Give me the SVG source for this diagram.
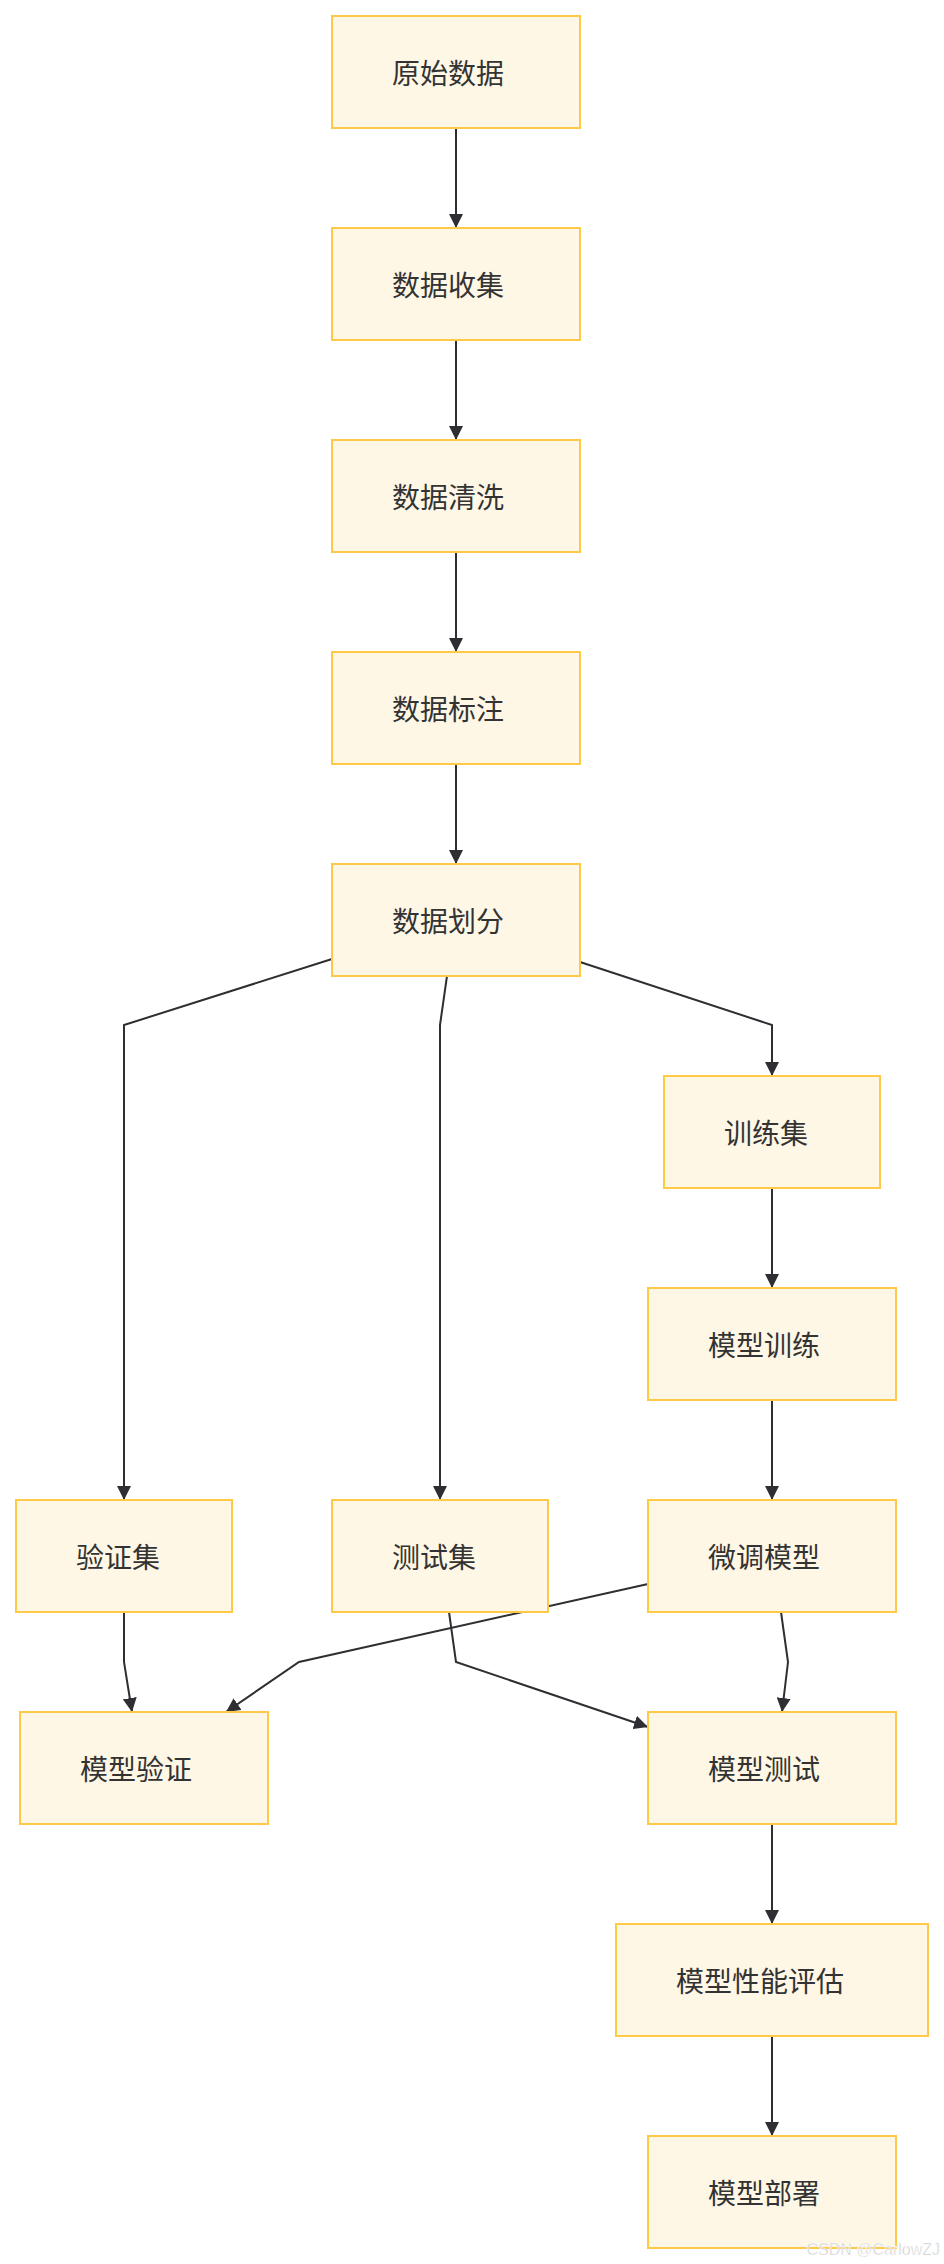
<svg xmlns="http://www.w3.org/2000/svg" width="944" height="2264" viewBox="0 0 944 2264">
<style>
.node rect{fill:#fff7e6;stroke:#fdc947;stroke-width:2}
.node text{font-family:"Noto Sans CJK SC","Noto Sans CJK JP",sans-serif;font-size:28px;fill:#333;text-anchor:start;dominant-baseline:central}
.edges path{fill:none;stroke:#2e2e33;stroke-width:2}
.wm{font-family:"Liberation Sans",Arial,sans-serif;font-size:16px;fill:#c8c8c8;stroke:#ffffff;stroke-width:0.5;text-anchor:end}
</style>
<defs>
<marker id="arrow" viewBox="0 0 10 10" refX="10" refY="5" markerWidth="14" markerHeight="14" markerUnits="userSpaceOnUse" orient="auto">
<path d="M0,0 L10,5 L0,10 z" fill="#2e2e33"/>
</marker>
</defs>
<rect width="944" height="2264" fill="#ffffff"/>
<g class="edges">
<path d="M456,128 L456,228" marker-end="url(#arrow)"/>
<path d="M456,340 L456,440" marker-end="url(#arrow)"/>
<path d="M456,552 L456,652" marker-end="url(#arrow)"/>
<path d="M456,764 L456,864" marker-end="url(#arrow)"/>
<path d="M332,959 L124,1025 L124,1500" marker-end="url(#arrow)"/>
<path d="M447,976 L440,1025 L440,1500" marker-end="url(#arrow)"/>
<path d="M580,962 L772,1025 L772,1076" marker-end="url(#arrow)"/>
<path d="M772,1188 L772,1288" marker-end="url(#arrow)"/>
<path d="M772,1400 L772,1500" marker-end="url(#arrow)"/>
<path d="M124,1612 L124,1662 L132,1712" marker-end="url(#arrow)"/>
<path d="M648,1584 L299,1662 L226,1712" marker-end="url(#arrow)"/>
<path d="M449,1612 L456,1662 L648,1727" marker-end="url(#arrow)"/>
<path d="M781,1612 L788,1662 L782,1712" marker-end="url(#arrow)"/>
<path d="M772,1824 L772,1924" marker-end="url(#arrow)"/>
<path d="M772,2036 L772,2136" marker-end="url(#arrow)"/>
</g>
<g id="n1" class="node"><rect x="332" y="16" width="248" height="112"/><text x="392" y="72">原始数据</text></g>
<g id="n2" class="node"><rect x="332" y="228" width="248" height="112"/><text x="392" y="284">数据收集</text></g>
<g id="n3" class="node"><rect x="332" y="440" width="248" height="112"/><text x="392" y="496">数据清洗</text></g>
<g id="n4" class="node"><rect x="332" y="652" width="248" height="112"/><text x="392" y="708">数据标注</text></g>
<g id="n5" class="node"><rect x="332" y="864" width="248" height="112"/><text x="392" y="920">数据划分</text></g>
<g id="n6" class="node"><rect x="664" y="1076" width="216" height="112"/><text x="724" y="1132">训练集</text></g>
<g id="n7" class="node"><rect x="648" y="1288" width="248" height="112"/><text x="708" y="1344">模型训练</text></g>
<g id="n8" class="node"><rect x="648" y="1500" width="248" height="112"/><text x="708" y="1556">微调模型</text></g>
<g id="n9" class="node"><rect x="16" y="1500" width="216" height="112"/><text x="76" y="1556">验证集</text></g>
<g id="n10" class="node"><rect x="332" y="1500" width="216" height="112"/><text x="392" y="1556">测试集</text></g>
<g id="n11" class="node"><rect x="20" y="1712" width="248" height="112"/><text x="80" y="1768">模型验证</text></g>
<g id="n12" class="node"><rect x="648" y="1712" width="248" height="112"/><text x="708" y="1768">模型测试</text></g>
<g id="n13" class="node"><rect x="616" y="1924" width="312" height="112"/><text x="676" y="1980">模型性能评估</text></g>
<g id="n14" class="node"><rect x="648" y="2136" width="248" height="112"/><text x="708" y="2192">模型部署</text></g>
<text class="wm" x="940" y="2255">CSDN @CarlowZJ</text>
</svg>
